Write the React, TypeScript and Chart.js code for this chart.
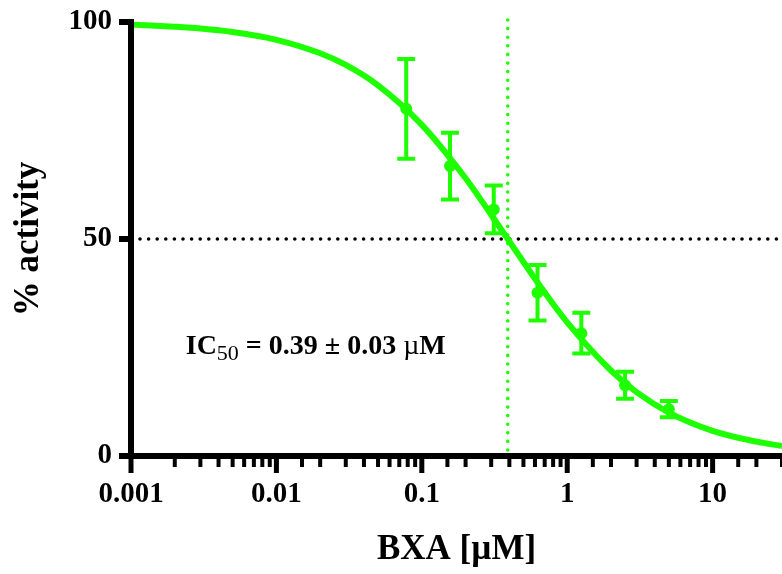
import React, { useEffect, useRef } from 'react';
import { Chart, registerables } from 'chart.js';

Chart.register(...registerables);

// ---- Data ----
const concentrations = [0.078125, 0.15625, 0.3125, 0.625, 1.25, 2.5, 5];
const activity = [80.0, 66.8, 56.8, 37.6, 28.3, 16.3, 10.8];
const activityErr = [11.5, 7.7, 5.5, 6.4, 4.7, 3.1, 1.9];

const curveX = [0.001, 0.002, 0.003, 0.005, 0.01, 0.02, 0.03, 0.05, 0.1, 0.2, 0.3, 0.39, 0.5, 0.7, 1, 2, 3, 5, 10, 20, 30];
const curveY = [99.4, 98.9, 98.5, 97.7, 95.9, 92.8, 90.1, 85.4, 76.3, 64.0, 55.6, 50, 44.7, 37.7, 30.8, 19.7, 14.7, 10.0, 5.8, 3.3, 2.3];

const yTickValues = [0, 50, 100];
const xMin = 0.001;
const xMax = 30;
const ic50 = 0.39;
const halfActivity = 50;
const annotationAt = { x: 0.00238, y: 23.4 };

const GREEN = 'rgb(30,255,0)';
const FONT = "'Liberation Serif', 'Times New Roman', serif";

const isPow10 = (v: number) => {
  const l = Math.log10(v);
  return Math.abs(l - Math.round(l)) < 1e-9;
};

const zeroPadding = (s: any) => {
  s.paddingTop = 0;
  s.paddingBottom = 0;
  s.paddingLeft = 0;
  s.paddingRight = 0;
};

const customPlugin = {
  id: 'customDrawing',
  afterLayout(chart: any) {
    // let the plot area run to the right edge of the canvas (the reference is cropped there)
    const x = chart.scales.x;
    const R = chart.width;
    if (chart.chartArea.right < R) {
      chart.chartArea.right = R;
      chart.chartArea.width = R - chart.chartArea.left;
      x.right = R;
      x.width = R - x.left;
      x.configure();
      x._labelItems = null;
    }
  },
  beforeDatasetsDraw(chart: any) {
    const { ctx, chartArea, scales } = chart;
    const x = scales.x, y = scales.y;
    ctx.save();
    ctx.lineCap = 'round';
    ctx.lineWidth = 3.6;
    ctx.setLineDash([0, 8.6]);
    // horizontal 50% line
    ctx.strokeStyle = '#000';
    const y50 = y.getPixelForValue(halfActivity);
    ctx.beginPath();
    ctx.moveTo(chartArea.left + 9, y50);
    ctx.lineTo(chartArea.right, y50);
    ctx.stroke();
    // vertical IC50 line
    ctx.strokeStyle = GREEN;
    const xi = x.getPixelForValue(ic50);
    ctx.beginPath();
    ctx.moveTo(xi, chartArea.top - 2);
    ctx.lineTo(xi, chartArea.bottom - 4);
    ctx.stroke();
    ctx.restore();

    // error bars
    ctx.save();
    ctx.strokeStyle = GREEN;
    ctx.lineWidth = 4;
    ctx.lineCap = 'butt';
    concentrations.forEach((c, i) => {
      const px = x.getPixelForValue(c);
      const top = y.getPixelForValue(activity[i] + activityErr[i]);
      const bot = y.getPixelForValue(activity[i] - activityErr[i]);
      ctx.beginPath();
      ctx.moveTo(px, top);
      ctx.lineTo(px, bot);
      ctx.moveTo(px - 9, top);
      ctx.lineTo(px + 9, top);
      ctx.moveTo(px - 9, bot);
      ctx.lineTo(px + 9, bot);
      ctx.stroke();
    });
    ctx.restore();
  },
  afterDatasetsDraw(chart: any) {
    const { ctx, chartArea, scales } = chart;
    const x = scales.x, y = scales.y;
    ctx.save();
    ctx.strokeStyle = '#000';
    ctx.lineCap = 'butt';
    // axis lines
    ctx.lineWidth = 6;
    ctx.beginPath();
    ctx.moveTo(chartArea.left, chartArea.top - 3);
    ctx.lineTo(chartArea.left, chartArea.bottom + 3);
    ctx.moveTo(chartArea.left - 3, chartArea.bottom);
    ctx.lineTo(chartArea.right, chartArea.bottom);
    ctx.stroke();
    // y ticks
    ctx.lineWidth = 6;
    y.ticks.forEach((t: any) => {
      const py = y.getPixelForValue(t.value);
      ctx.beginPath();
      ctx.moveTo(chartArea.left - 12, py);
      ctx.lineTo(chartArea.left, py);
      ctx.stroke();
    });
    // x ticks
    x.ticks.forEach((t: any) => {
      const px = x.getPixelForValue(t.value);
      if (px > chartArea.right + 1) return;
      const major = isPow10(t.value);
      ctx.lineWidth = major ? 5 : 4;
      ctx.beginPath();
      ctx.moveTo(px, chartArea.bottom);
      ctx.lineTo(px, chartArea.bottom + (major ? 17 : 11));
      ctx.stroke();
    });
    ctx.restore();

    // annotation
    ctx.save();
    ctx.fillStyle = '#000';
    ctx.textBaseline = 'alphabetic';
    ctx.textAlign = 'left';
    let ax = x.getPixelForValue(annotationAt.x);
    const ay = y.getPixelForValue(annotationAt.y);
    const parts: [string, string, number][] = [
      ['IC', `bold 28px ${FONT}`, 0],
      ['50', `22px ${FONT}`, 6],
      [' = 0.39 ± 0.03 ', `bold 28px ${FONT}`, 0],
      ['µ', `28px ${FONT}`, 0],
      ['M', `bold 28px ${FONT}`, 0],
    ];
    parts.forEach(([txt, font, dy]) => {
      ctx.font = font;
      ctx.fillText(txt, ax, ay + dy);
      ax += ctx.measureText(txt).width;
    });
    ctx.restore();
  },
};

export default function App() {
  const canvasRef = useRef<HTMLCanvasElement | null>(null);

  useEffect(() => {
    const canvas = canvasRef.current;
    if (!canvas) return;
    const chart = new Chart(canvas, {
      type: 'scatter',
      data: {
        datasets: [
          {
            label: 'fit',
            data: curveX.map((v, i) => ({ x: v, y: curveY[i] })),
            showLine: true,
            borderColor: GREEN,
            borderWidth: 6,
            pointRadius: 0,
            cubicInterpolationMode: 'monotone',
            fill: false,
          } as any,
          {
            label: 'data',
            data: concentrations.map((v, i) => ({ x: v, y: activity[i] })),
            showLine: false,
            pointRadius: 6,
            pointBackgroundColor: GREEN,
            pointBorderColor: GREEN,
            pointBorderWidth: 0,
          } as any,
        ],
      },
      options: {
        animation: false,
        responsive: false,
        maintainAspectRatio: false,
        events: [],
        layout: { padding: { top: 22, right: 0, left: 0, bottom: 0 } },
        plugins: {
          legend: { display: false },
          tooltip: { enabled: false },
          title: { display: false },
        },
        scales: {
          x: {
            type: 'logarithmic',
            min: xMin,
            max: xMax,
            grid: { display: false },
            border: { display: false },
            ticks: {
              autoSkip: false,
              maxRotation: 0,
              minRotation: 0,
              padding: 13,
              color: '#000',
              font: { family: FONT, size: 29, weight: 'bold' },
              callback: (v: any) => (isPow10(Number(v)) ? String(Number(v)) : ''),
            },
            title: {
              display: true,
              text: 'BXA [µM]',
              color: '#000',
              font: { family: FONT, size: 35, weight: 'bold' },
              padding: { top: 0, bottom: 3 },
            },
            afterFit: (s: any) => {
              s.height = 118;
              zeroPadding(s);
            },
          } as any,
          y: {
            type: 'linear',
            min: 0,
            max: 100,
            grid: { display: false },
            border: { display: false },
            afterBuildTicks: (s: any) => {
              s.ticks = yTickValues.map((v) => ({ value: v }));
            },
            ticks: {
              padding: 11,
              color: '#000',
              font: { family: FONT, size: 29, weight: 'bold' },
            },
            title: {
              display: true,
              text: '% activity',
              color: '#000',
              font: { family: FONT, size: 35, weight: 'bold' },
              padding: { top: 8, bottom: 0 },
            },
            afterFit: (s: any) => {
              s.width = 131;
              zeroPadding(s);
            },
          } as any,
        },
      },
      plugins: [customPlugin],
    });
    return () => chart.destroy();
  }, []);

  return (
    <div style={{ position: 'fixed', left: 0, top: 0, width: 782, height: 574, background: '#fff' }}>
      <canvas ref={canvasRef} width={782} height={574} style={{ display: 'block', width: 782, height: 574 }} />
    </div>
  );
}
